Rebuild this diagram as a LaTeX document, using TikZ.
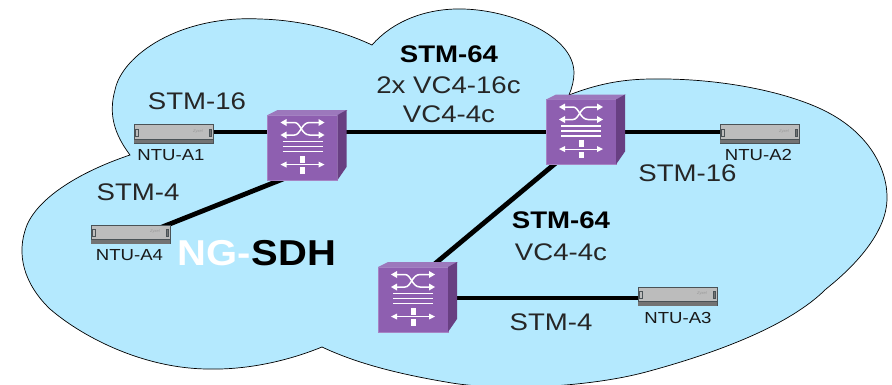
\documentclass[tikz,border=0pt]{standalone}
\usetikzlibrary{backgrounds}
\usepackage{fontspec}
\setmainfont{Liberation Sans}
\newfontfamily\widefont[FakeStretch=1.15]{Liberation Sans}
\newfontfamily\ntufont[FakeStretch=1.16]{Liberation Sans}
\newfontfamily\bigfont[FakeStretch=1.11]{Liberation Sans}
\definecolor{cloudblue}{HTML}{B4E9FE}
\definecolor{swfront}{HTML}{8E5FB0}
\definecolor{swedge}{HTML}{A684C4}
\definecolor{swtop}{HTML}{9C78BC}
\definecolor{swside}{HTML}{683F82}
\definecolor{ntu}{HTML}{BCBCBC}
\definecolor{ntudark}{HTML}{4A5256}
\tikzset{
  x=1pt,y=-1pt,
  cloudshape/.style={fill=cloudblue,draw=black,line width=.7pt,line join=miter},
  swbox/.style={draw=swedge,line width=.6pt,fill=swfront,minimum width=70pt,minimum height=65pt,inner sep=0pt,outer sep=0pt},
  ntubox/.style={draw=ntudark,line width=.8pt,fill=ntu,minimum width=79pt,minimum height=18.5pt,inner sep=0pt,outer sep=0pt},
  link/.style={line width=3.6pt,black},
  heavy/.style={line width=4.8pt,black},
  lab/.style={font=\widefont\fontsize{24}{26}\selectfont,text=black!85,inner sep=0pt},
  blab/.style={font=\widefont\fontsize{24}{26}\selectfont\bfseries,text=black,inner sep=0pt},
  ntulab/.style={font=\ntufont\fontsize{16}{17}\selectfont,text=black!90,inner sep=0pt},
  brandlab/.style={font=\fontsize{4}{4}\selectfont\itshape,text=black!40,inner sep=0pt},
  wht/.style={white,line width=1.2pt},
}
\newcommand{\swdeco}[1]{%
  \fill[swtop] (#1.north west) -- ++(10,-5) -- ++(70,0) -- (#1.north east) -- cycle;
  \fill[swside] (#1.north east) -- ++(9,-5) -- ++(0,57) -- (#1.south east) -- cycle;
  \begin{scope}[shift={(#1.center)}]
    \draw[wht,line width=1.5pt] (-17,-25) -- (-8,-25) .. controls (-2,-25) and (-1,-12.5) .. (7,-12.5) -- (17,-12.5);
    \draw[wht,line width=1.5pt] (-17,-12.5) -- (-8,-12.5) .. controls (-2,-12.5) and (-1,-25) .. (7,-25) -- (17,-25);
    \foreach \sx in {-1,1} \foreach \yy in {-25,-12.5}
      \fill[white] (\sx*22,\yy) -- (\sx*16,\yy-3.5) -- (\sx*16,\yy+3.5) -- cycle;
    \foreach \yy in {-6,-1,4}
      \draw[wht,line width=1.2pt] (-20,\yy) -- (20,\yy);
    \draw[wht,line width=1pt] (-17,17) -- (17,17);
    \foreach \sx in {-1,1}
      \fill[white] (\sx*22,17) -- (\sx*16,14) -- (\sx*16,20) -- cycle;
    \fill[white] (-2.5,8) rectangle (2.5,15);
    \fill[white] (-2.5,19.5) rectangle (2.5,26);
  \end{scope}}
\newcommand{\ntudeco}[1]{%
  \fill[black!55] ([yshift=4pt]#1.south west) rectangle (#1.south east);
  \draw[ntudark,line width=.7pt] ([yshift=4pt]#1.south west) -- ([yshift=4pt]#1.south east);
  \draw[ntudark,line width=.6pt,fill=ntu] ([xshift=1.5pt,yshift=-4.5pt]#1.north west) rectangle ++(2.5,7);
  \draw[ntudark,line width=.6pt,fill=black!55] ([xshift=-4pt,yshift=-4.5pt]#1.north east) rectangle ++(2.5,7);
  \node[brandlab] (#1z) at ([xshift=-15pt,yshift=-6.5pt]#1.north east) {Zyxel};
}
\begin{document}
\begin{tikzpicture}
\useasboundingbox (0,0) rectangle (892,384);
\begin{scope}[on background layer]
\fill[white] (0,0) rectangle (892,384);
\path[cloudshape] (130,155)
  .. controls (115,135) and (108,115) .. (115,90)
  .. controls (122,55) and (180,15) .. (260,19)
  .. controls (300,20) and (340,30) .. (372,45)
  .. controls (392,22) and (425,8) .. (463,9)
  .. controls (510,10) and (574,35) .. (574,73)
  .. controls (574,80) and (572,88) .. (569,95)
  .. controls (595,85) and (620,79) .. (653,79)
  .. controls (720,78) and (790,92) .. (829,113)
  .. controls (870,135) and (888,170) .. (887,200)
  .. controls (886,230) and (860,262) .. (826,289)
  .. controls (790,325) and (720,352) .. (646,372)
  .. controls (590,387) and (500,392) .. (446,382)
  .. controls (405,375) and (360,365) .. (322,347)
  .. controls (285,362) and (245,370) .. (207,369)
  .. controls (140,368) and (80,335) .. (50,309)
  .. controls (25,285) and (15,255) .. (27,225)
  .. controls (40,195) and (85,170) .. (130,155) -- cycle;
\end{scope}
\node[swbox] (sw1) at (302.5,147.5) {};
\node[swbox] (sw2) at (581,132) {};
\node[swbox] (sw3) at (413,299.5) {};
\node[ntubox] (a1) at (173.5,134) {};
\node[ntubox] (a2) at (759.5,134) {};
\node[ntubox] (a3) at (677.5,296.5) {};
\node[ntubox] (a4) at (130.5,234.5) {};
\begin{scope}[on background layer]
\draw[link] ([yshift=2pt]a1.east) -- (sw1.west |- sw2.west);
\draw[heavy,line width=4pt] (sw1.east |- sw2.west) -- (sw2.west);
\draw[link] (sw2.east) -- ([yshift=2pt]a2.west);
\draw[link] ([yshift=1.5pt]sw3.east) -- ([yshift=1.5pt]sw3.east -| a3.west);
\draw[heavy] ([xshift=-11pt,yshift=-3pt]a4.north east) -- ([xshift=23pt,yshift=4pt]sw1.south west);
\draw[heavy] ([xshift=47pt,yshift=-5pt]sw3.north west) -- ([xshift=17pt,yshift=7.5pt]sw2.south west);
\end{scope}
\swdeco{sw1}\swdeco{sw2}\swdeco{sw3}
\ntudeco{a1}\ntudeco{a2}\ntudeco{a3}\ntudeco{a4}
\node[ntulab] (la1) at (171,155.5) {NTU-A1};
\node[ntulab] (la2) at (758.5,155) {NTU-A2};
\node[ntulab] (la3) at (678,318) {NTU-A3};
\node[ntulab] (la4) at (129.5,255) {NTU-A4};
\node[lab] (t1) at (197,101) {STM-16};
\node[lab] (t2) at (138,192) {STM-4};
\node[lab] (t3) at (687.5,173) {STM-16};
\node[lab] (t4) at (551,322) {STM-4};
\node[blab] (t5) at (449,54.5) {STM-64};
\node[lab] (t6) at (448.5,85) {2x VC4-16c};
\node[lab] (t7) at (449,114) {VC4-4c};
\node[blab] (t8) at (561,220) {STM-64};
\node[lab] (t9) at (561,252) {VC4-4c};
\node[inner sep=0pt,font=\bigfont\fontsize{36}{38}\selectfont\bfseries,anchor=base west] (t10) at (177,265) {\textcolor{white}{NG-}\hspace{1.5pt}\textcolor{black}{SDH}};
\end{tikzpicture}
\end{document}
